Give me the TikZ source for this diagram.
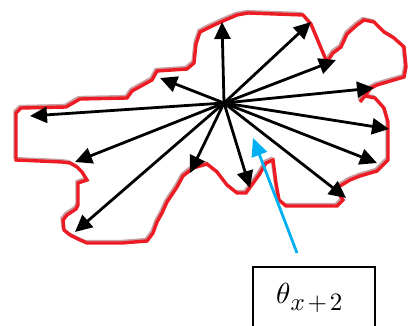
\documentclass[tikz,border=0pt]{standalone}
\usetikzlibrary{arrows.meta}
\definecolor{outlinered}{RGB}{237,28,36}
\definecolor{outlineshade}{RGB}{150,80,85}
\definecolor{pointerblue}{RGB}{0,176,240}
\tikzset{
  ray/.style={line width=2.8pt, black, -{Triangle[length=17pt,width=16pt]}},
  pointer/.style={line width=2.8pt, pointerblue, -{Triangle[length=18pt,width=16pt]}},
  contour/.style={line width=3.4pt, outlinered, line join=miter},
  contourshade/.style={line width=2.2pt, outlineshade, opacity=0.55},
  labelbox/.style={draw=black, line width=1.6pt, minimum width=122pt, minimum height=64pt, inner sep=0pt},
}
\begin{document}
\begin{tikzpicture}[x=1pt, y=-1pt]
\useasboundingbox (0,0) rectangle (409,326);

% blob outline traced as a closed polygon
\def\blob{(16,160) -- (16,113) -- (21,108) -- (66,107) -- (80,99) -- (127,98) -- (132,91) -- (141,86) -- (152,80) -- (157,71) -- (187,69) -- (194,63) -- (196,44) -- (200,32) -- (212,26) -- (223,21) -- (237,15) -- (248,13) -- (303,15) -- (311,24) -- (321,48) -- (327,62) -- (333,53) -- (341,47) -- (347,34) -- (357,25) -- (364,20) -- (374,22) -- (384,32) -- (394,38) -- (404,47) -- (406,67) -- (404,77) -- (387,82) -- (377,85) -- (371,88) -- (360,102) -- (365,96) -- (375,98) -- (384,108) -- (388,122) -- (388,160) -- (382,166) -- (377,171) -- (360,176) -- (350,180) -- (340,186) -- (337,191) -- (343,200) -- (337,206) -- (286,206) -- (279,200) -- (276,183) -- (273,160) -- (266,163) -- (259,175) -- (251,186) -- (246,193) -- (237,193) -- (227,185) -- (217,172) -- (207,164) -- (193,168) -- (183,176) -- (177,187) -- (167,202) -- (162,213) -- (157,222) -- (153,233) -- (147,241) -- (122,243) -- (87,243) -- (80,240) -- (70,235) -- (64,230) -- (63,220) -- (67,215) -- (76,209) -- (78,205) -- (78,183) -- (87,180) -- (82,172) -- (77,167) -- (70,163) -- (62,162) -- cycle}
\draw[contourshade, shift={(-1.5,-2)}] \blob;
\draw[contour] \blob;

% centre of the rays and the boundary points they reach
\coordinate (c) at (224,103);
\coordinate (t1) at (222,22);
\coordinate (t2) at (311,22);
\coordinate (t3) at (336,60);
\coordinate (t4) at (374,88);
\coordinate (t5) at (389,129);
\coordinate (t6) at (377,163);
\coordinate (t7) at (346,198);
\coordinate (t8) at (250,188);
\coordinate (t9) at (190,173);
\coordinate (t10) at (75,232);
\coordinate (t11) at (75,162);
\coordinate (t12) at (30,116);
\coordinate (t13) at (160,78);

\foreach \i in {1,...,13} {
  \draw[ray] (c) -- (t\i);
}

% label box and its pointer
\node[labelbox] (lbl) at (314,299) {};
\node[anchor=base west, inner sep=0pt] (sym) at (276,303)
  {\scalebox{2.9}{$\theta$}\raisebox{-7pt}{\scalebox{2.5}{$x\mkern2mu{+}\mkern2mu2$}}};
\coordinate (p0) at (297,253);
\coordinate (p1) at (253,138);
\draw[pointer] (p0) -- (p1);
\end{tikzpicture}
\end{document}
